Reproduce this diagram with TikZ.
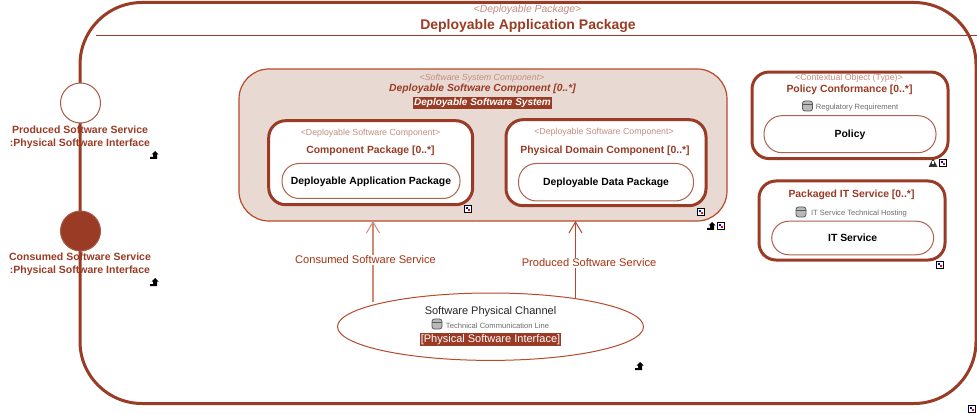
\documentclass[tikz,border=0pt]{standalone}
\usepackage{fontspec}
\setmainfont{Liberation Sans}
\usetikzlibrary{arrows.meta,shapes.geometric}
\definecolor{brick}{HTML}{993B25}
\definecolor{brickline}{HTML}{B8492B}
\definecolor{bricklabel}{HTML}{A83212}
\definecolor{blush}{HTML}{E9D9D3}
\definecolor{stereo}{HTML}{C48E80}
\tikzset{
	linkmark/.pic={
		\draw[black,fill=white,line width=1pt] (-3.5,-3.5) rectangle (3.5,3.5);
		\fill[blue] (-2,-2) rectangle (0,0);
		\fill[red] (0,0) rectangle (2,2);
	},
	upmark/.pic={
		\fill[black] (1,-4) -- (4.5,-0.5) -- (3,-0.5) -- (3,4) -- (-4,4) -- (-4,2) -- (-1,2) -- (-1,-0.5) -- (-2.5,-0.5) -- cycle;
	},
	dbmark/.pic={
		\draw[gray!70!black,fill=gray!55,line width=0.8pt,rounded corners=2.5pt] (-5,-5) rectangle (5,5);
		\draw[gray!70!black,line width=0.7pt] (-5,-2) -- (5,-2);
	},
	warnmark/.pic={
		\fill[gray!40!black] (0,-4.5) -- (4.5,4) -- (-4.5,4) -- cycle;
		\fill[white] (-0.6,-1.5) rectangle (0.6,1.5);
	}
}
\begin{document}
\begin{tikzpicture}[x=1pt,y=-1pt]
\tikzstyle{every node}=[inner sep=0pt,outer sep=0pt,font=\fontsize{10.4}{12}\selectfont]
\tikzstyle{package}=[draw=brick,line width=3pt,fill=white,rounded corners=62pt]
\tikzstyle{systembox}=[draw=brickline,line width=1.2pt,fill=blush,rounded corners=30pt]
\tikzstyle{component}=[draw=brick,line width=3pt,fill=white,rounded corners=17pt]
\tikzstyle{pill}=[draw=brick!80,line width=1pt,fill=white,rounded corners=17pt,text=black,text height=9.5pt,text depth=2pt,font=\fontsize{10.4}{12}\selectfont\bfseries]
\tikzstyle{port}=[circle,draw=brick!85,fill=white,line width=1pt,minimum size=40pt]
\tikzstyle{stereotype}=[text=stereo,yshift=-1.3pt,font=\fontsize{8.8}{10}\selectfont]
\tikzstyle{title}=[text=brick,yshift=-1.3pt,font=\fontsize{10.4}{12}\selectfont\bfseries]
\tikzstyle{portlabel}=[text=brick,align=center,yshift=-0.8pt,font=\fontsize{10.5}{13}\selectfont\bfseries]
\tikzstyle{flowlabel}=[text=bricklabel,fill=white,inner sep=1pt,yshift=-1pt,font=\fontsize{11.1}{12}\selectfont]
\tikzstyle{role}=[text=gray!85!black,yshift=-1pt,font=\fontsize{7.6}{10}\selectfont]
\tikzstyle{tag}=[fill=brick,text=white,inner sep=1pt,yshift=-1pt,font=\fontsize{11}{12}\selectfont]
\tikzstyle{flow}=[draw=brickline,-{Straight Barb[length=11pt,width=13pt,line width=1pt]}]

\useasboundingbox (0,0) rectangle (977,414);

\node[package,minimum width=896pt,minimum height=401pt] (appPackage) at (528,203) {};
\coordinate (ruleLeft) at (96,36);
\coordinate (ruleRight) at (977,36);
\draw[brick,line width=1pt] (ruleLeft) -- (ruleRight);
\node[stereotype,font=\fontsize{10.4}{12}\selectfont\itshape] (packageStereo) at (527.5,9) {<Deployable Package>};
\node[title,font=\fontsize{14}{18}\selectfont\bfseries] (packageTitle) at (528,25) {Deployable Application Package};

\node[port] (producedPort) at (80.5,103) {};
\node[port,fill=brick] (consumedPort) at (80.5,231) {};
\node[portlabel] (producedLabel) at (80,136.5) {Produced Software Service\\:Physical Software Interface};
\node[portlabel] (consumedLabel) at (80,263.5) {Consumed Software Service\\:Physical Software Interface};

\node[systembox,minimum width=488pt,minimum height=152pt] (system) at (483,145) {};
\node[stereotype,font=\fontsize{8.8}{10}\selectfont\itshape] (systemStereo) at (482,76.5) {<Software System Component>};
\node[title,font=\fontsize{10.3}{12}\selectfont\bfseries\itshape] (systemTitle) at (482.5,88) {Deployable Software Component [0..*]};
\node[tag,font=\fontsize{10}{12}\selectfont\bfseries\itshape] (systemTag) at (482.5,102) {Deployable Software System};

\node[component,minimum width=204pt,minimum height=84pt] (packageComp) at (370.7,162.7) {};
\node[stereotype] (packageCompStereo) at (370.5,132) {<Deployable Software Component>};
\node[title] (packageCompTitle) at (370.5,150) {Component Package [0..*]};
\node[pill,minimum width=178pt,minimum height=35pt] (packageCompType) at (371,181) {Deployable Application Package};

\node[component,minimum width=200pt,minimum height=86pt] (domainComp) at (606,162.7) {};
\node[stereotype] (domainCompStereo) at (604,131) {<Deployable Software Component>};
\node[title] (domainCompTitle) at (605,150) {Physical Domain Component [0..*]};
\node[pill,minimum width=175pt,minimum height=37.5pt,rounded corners=18pt] (domainCompType) at (606,182.2) {Deployable Data Package};

\node[component,minimum width=196pt,minimum height=86.5pt] (policyComp) at (850,115.3) {};
\node[stereotype] (policyStereo) at (849,77) {<Contextual Object (Type)>};
\node[title] (policyTitle) at (849.5,89) {Policy Conformance [0..*]};
\pic at (807.5,106) {dbmark};
\node[role] (policyRole) at (857,107) {Regulatory Requirement};
\node[pill,minimum width=172pt,minimum height=37pt,rounded corners=18pt] (policyType) at (850,134.2) {Policy};

\node[component,minimum width=186pt,minimum height=79pt] (serviceComp) at (852,220.5) {};
\node[title] (serviceTitle) at (851.5,194) {Packaged IT Service [0..*]};
\pic at (801,212) {dbmark};
\node[role] (serviceRole) at (859,213) {IT Service Technical Hosting};
\node[pill,minimum width=162pt,minimum height=33.5pt] (serviceType) at (852.7,238) {IT Service};

\node[ellipse,draw=brickline,line width=1pt,fill=white,minimum width=306pt,minimum height=67.4pt] (channel) at (490.5,326.7) {};
\node[yshift=-1.3pt,font=\fontsize{11}{12}\selectfont,text=black!85] (channelTitle) at (490.5,310) {Software Physical Channel};
\pic at (437,324) {dbmark};
\node[role] (channelRole) at (497.5,325) {Technical Communication Line};
\node[tag] (channelTag) at (490.5,338.5) {[Physical Software Interface]};

\coordinate (consumedStart) at (373,302);
\coordinate (producedStart) at (575.5,298);
\draw[flow,draw=brickline!65,line width=2pt] (consumedStart) -- (consumedStart |- system.south);
\draw[flow,line width=1pt] (producedStart) -- (producedStart |- system.south);
\node[flowlabel] (consumedFlow) at (365.5,259) {Consumed Software Service};
\node[flowlabel] (producedFlow) at (589,262) {Produced Software Service};

\pic at (154,155) {upmark};
\pic at (154,282) {upmark};
\pic at (639,366) {upmark};
\pic at (711,226) {upmark};
\pic at (467.5,209) {linkmark};
\pic at (701,212) {linkmark};
\pic at (721,226) {linkmark};
\pic at (943,163) {linkmark};
\pic at (933,163) {warnmark};
\pic at (940,265) {linkmark};
\pic at (972,409) {linkmark};
\end{tikzpicture}
\end{document}
